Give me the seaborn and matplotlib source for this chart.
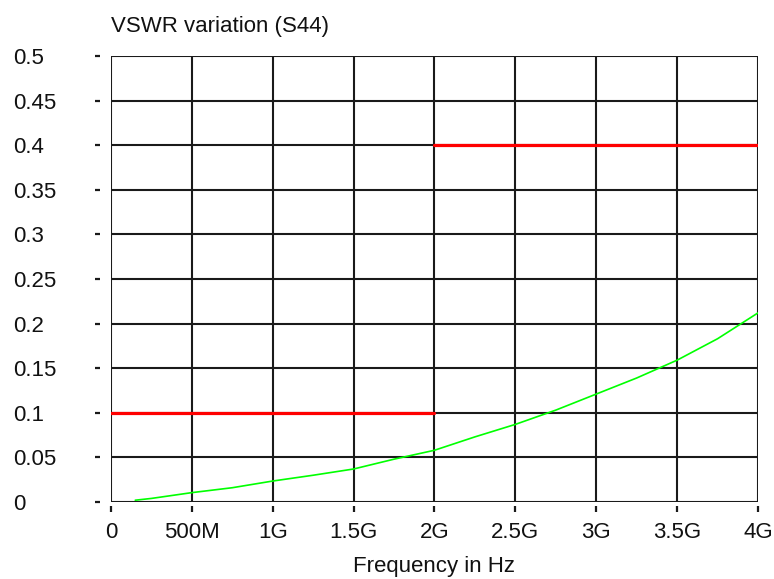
import matplotlib
matplotlib.use("Agg")
import matplotlib.pyplot as plt
import seaborn as sns
import pandas as pd

# measured curve (frequency in GHz, VSWR variation)
freq_ghz = [0.15, 0.25, 0.5, 0.75, 1.0, 1.25, 1.5, 1.75, 2.0, 2.25, 2.5,
            2.75, 3.0, 3.25, 3.5, 3.75, 4.0]
vswr = [0.002, 0.004, 0.0105, 0.016, 0.0235, 0.030, 0.037, 0.048, 0.058,
        0.073, 0.087, 0.103, 0.121, 0.139, 0.159, 0.183, 0.212]

# limit mask
limit_seg = ["low", "low", "high", "high"]
limit_ghz = [0.0, 2.0, 2.0, 4.0]
limit_val = [0.1, 0.1, 0.4, 0.4]

xticks_ghz = [0, 0.5, 1, 1.5, 2, 2.5, 3, 3.5, 4]
xtick_labels = ["0", "500M", "1G", "1.5G", "2G", "2.5G", "3G", "3.5G", "4G"]
yticks = [0, 0.05, 0.1, 0.15, 0.2, 0.25, 0.3, 0.35, 0.4, 0.45, 0.5]
ytick_labels = ["0", "0.05", "0.1", "0.15", "0.2", "0.25", "0.3", "0.35",
                "0.4", "0.45", "0.5"]

sns.set_style("white")
plt.rcParams["font.family"] = ["Liberation Sans", "DejaVu Sans"]
plt.rcParams["font.size"] = 16
plt.rcParams["text.color"] = "#111111"
plt.rcParams["xtick.labelcolor"] = "#111111"
plt.rcParams["ytick.labelcolor"] = "#111111"
plt.rcParams["axes.labelcolor"] = "#111111"

curve = pd.DataFrame({"freq": [f * 1e9 for f in freq_ghz], "vswr": vswr})
limits = pd.DataFrame({"seg": limit_seg,
                       "freq": [f * 1e9 for f in limit_ghz],
                       "val": limit_val})

fig = plt.figure(figsize=(7.74, 5.79), dpi=100)
ax = fig.add_axes([0.1434, 0.1330, 0.8359, 0.7703])

sns.lineplot(data=limits, x="freq", y="val", units="seg", estimator=None,
             color="#ff0000", linewidth=2.3, ax=ax)
sns.lineplot(data=curve, x="freq", y="vswr", color="#00ff00",
             linewidth=1.2, ax=ax)

ax.set_xlim(0, 4e9)
ax.set_ylim(0, 0.5)
ax.set_xticks([t * 1e9 for t in xticks_ghz])
ax.set_xticklabels(xtick_labels)
ax.set_yticks(yticks)
ax.set_yticklabels(ytick_labels)

# grid doubles as the frame
ax.set_axisbelow(True)
ax.grid(True, color="#1a1a1a", linewidth=1.5)
for ln in ax.get_xgridlines() + ax.get_ygridlines():
    ln.set_clip_on(False)

ax.spines["left"].set_position(("outward", 8))
ax.spines["bottom"].set_position(("outward", 3))
for side in ["left", "bottom", "top", "right"]:
    ax.spines[side].set_visible(False)

ax.tick_params(axis="y", left=True, length=3.5, width=1.6, color="#1a1a1a",
               pad=59, labelsize=16)
ax.tick_params(axis="x", bottom=True, length=4.5, width=1.6, color="#1a1a1a",
               pad=7, labelsize=16)
plt.setp(ax.get_yticklabels(), ha="left")

ax.set_xlabel("Frequency in Hz", fontsize=16, labelpad=9)
ax.set_ylabel("")
ax.set_title("VSWR variation (S44)", loc="left", fontsize=16, pad=17)

fig.savefig("out.png", dpi=100)
